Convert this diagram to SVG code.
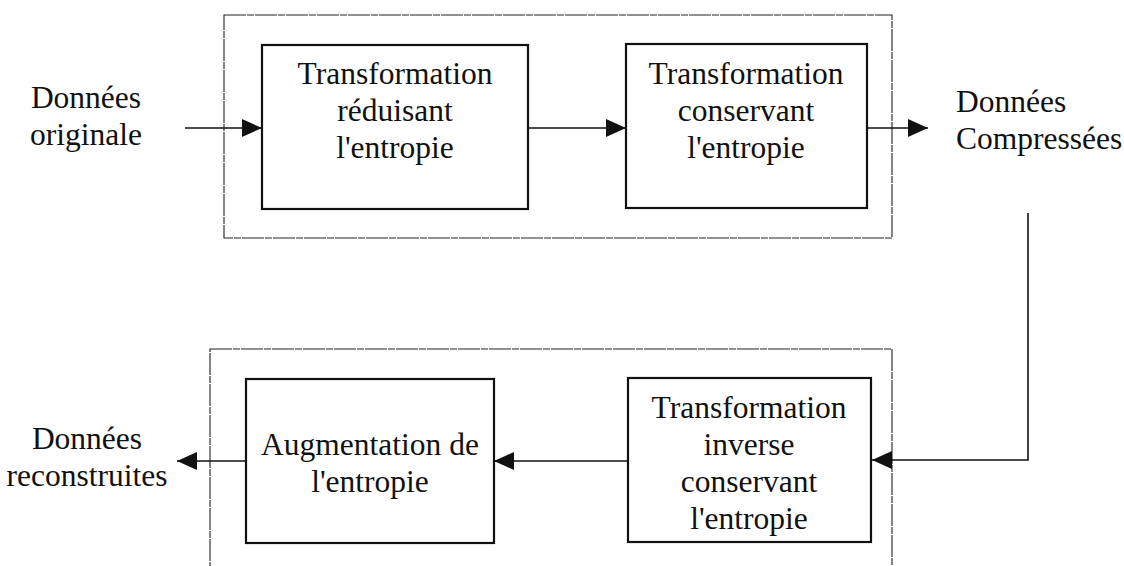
<svg xmlns="http://www.w3.org/2000/svg" width="1124" height="566" viewBox="0 0 1124 566">
  <style>
    .lbl { font-family: "Liberation Serif", "Times New Roman", serif; font-size: 31.5px; fill: #111; }
    .mid { text-anchor: middle; }
    .box { fill: #fff; stroke: #111; stroke-width: 2.2; }
    .frame { fill: none; stroke: #222; stroke-width: 1.1; stroke-dasharray: 22 1 7 1; }
    .wire { fill: none; stroke: #111; stroke-width: 1.6; }
  </style>
  <defs>
    <marker id="head" markerUnits="userSpaceOnUse" markerWidth="22" markerHeight="20" refX="20" refY="9" orient="auto">
      <path d="M0,0 L20,9 L0,18 Z" fill="#111"/>
    </marker>
  </defs>
  <rect width="1124" height="566" fill="#fff"/>

  <!-- grouping frames: compression and decompression stages -->
  <g id="frames">
    <rect class="frame" x="224" y="15" width="668" height="223"/>
    <rect class="frame" x="210" y="349" width="682" height="230"/>
  </g>

  <!-- connectors -->
  <g id="connectors">
    <path class="wire" d="M185,128 L262,128" marker-end="url(#head)"/>
    <path class="wire" d="M528,128 L626,128" marker-end="url(#head)"/>
    <path class="wire" d="M867,128 L928,128" marker-end="url(#head)"/>
    <path class="wire" d="M1028,213 L1028,460 L872,460" marker-end="url(#head)"/>
    <path class="wire" d="M628,461 L494,461" marker-end="url(#head)"/>
    <path class="wire" d="M246,461 L177,461" marker-end="url(#head)"/>
  </g>

  <g id="input-label">
    <text class="lbl mid" x="86" y="108">Données</text>
    <text class="lbl mid" x="86" y="145">originale</text>
  </g>

  <g id="reduce-entropy">
    <rect class="box" x="262" y="45" width="266" height="164"/>
    <text class="lbl mid" x="395" y="84">Transformation</text>
    <text class="lbl mid" x="395" y="121">réduisant</text>
    <text class="lbl mid" x="395" y="158">l'entropie</text>
  </g>

  <g id="keep-entropy">
    <rect class="box" x="626" y="44" width="241" height="164"/>
    <text class="lbl mid" x="746" y="84">Transformation</text>
    <text class="lbl mid" x="746" y="121">conservant</text>
    <text class="lbl mid" x="746" y="158">l'entropie</text>
  </g>

  <g id="compressed-label">
    <text class="lbl" x="956" y="112">Données</text>
    <text class="lbl" x="956" y="149">Compressées</text>
  </g>

  <g id="inverse-transform">
    <rect class="box" x="628" y="378" width="243" height="164"/>
    <text class="lbl mid" x="749" y="418">Transformation</text>
    <text class="lbl mid" x="749" y="455">inverse</text>
    <text class="lbl mid" x="749" y="492">conservant</text>
    <text class="lbl mid" x="749" y="529">l'entropie</text>
  </g>

  <g id="raise-entropy">
    <rect class="box" x="246" y="379" width="248" height="164"/>
    <text class="lbl mid" x="370" y="455">Augmentation de</text>
    <text class="lbl mid" x="370" y="492">l'entropie</text>
  </g>

  <g id="output-label">
    <text class="lbl mid" x="87" y="449">Données</text>
    <text class="lbl mid" x="87" y="486">reconstruites</text>
  </g>
</svg>
